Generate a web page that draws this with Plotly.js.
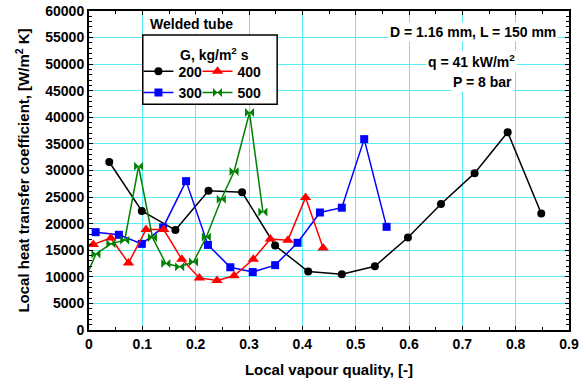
<!DOCTYPE html>
<html>
<head>
<meta charset="utf-8">
<script src="https://cdn.plot.ly/plotly-3.0.1.min.js"></script>
<style>html,body{margin:0;padding:0;background:#fff;}#chart{width:581px;height:387px;}</style>
</head>
<body>
<div id="chart"></div>
<script>
// Data
const x200 = [0.038, 0.099, 0.162, 0.224, 0.287, 0.349, 0.411, 0.474, 0.536, 0.598, 0.660, 0.723, 0.785, 0.848];
const y200 = [31600, 22400, 18800, 26200, 25900, 15900, 11000, 10500, 12000, 17400, 23700, 29500, 37200, 21900];

const x300 = [0.0125, 0.056, 0.099, 0.139, 0.182, 0.223, 0.265, 0.307, 0.349, 0.391, 0.433, 0.474, 0.516, 0.558];
const y300 = [18400, 17900, 16200, 19300, 28000, 16000, 11800, 10900, 12200, 16400, 22100, 23000, 35900, 19400];

const x400 = [0.008, 0.041, 0.074, 0.107, 0.140, 0.174, 0.207, 0.240, 0.272, 0.308, 0.340, 0.373, 0.406, 0.439];
const y400 = [16100, 17300, 12600, 18900, 18900, 13300, 9800, 9300, 10200, 13300, 17100, 16900, 24900, 15400];

const x500 = [-0.012, 0.013, 0.041, 0.067, 0.093, 0.119, 0.144, 0.170, 0.196, 0.220, 0.248, 0.272, 0.301, 0.326];
const y500 = [8500, 14300, 16200, 16900, 30800, 17400, 12500, 11900, 12800, 17500, 24600, 29800, 40900, 22200];

const seriesNames = ['200', '300', '400', '500'];
const xTickVals = [0, 0.1, 0.2, 0.3, 0.4, 0.5, 0.6, 0.7, 0.8, 0.9];
const xTickText = ['0', '0.1', '0.2', '0.3', '0.4', '0.5', '0.6', '0.7', '0.8', '0.9'];

const FONT = 'Liberation Sans, Arial, sans-serif';
const grid = 'rgb(90,235,245)';

const traces = [
  {x: x200, y: y200, name: seriesNames[0], mode: 'lines+markers', legend: 'legend',
   line: {color: '#000000', width: 1.5}, marker: {symbol: 'circle', size: 8, color: '#000000'}},
  {x: x300, y: y300, name: seriesNames[1], mode: 'lines+markers', legend: 'legend',
   line: {color: '#0000ff', width: 1.5}, marker: {symbol: 'square', size: 8, color: '#0000ff'}},
  {x: x400, y: y400, name: seriesNames[2], mode: 'lines+markers', legend: 'legend2',
   line: {color: '#ff0000', width: 1.5}, marker: {symbol: 'triangle-up', size: 10, color: '#ff0000'}},
  {x: x500, y: y500, name: seriesNames[3], mode: 'lines+markers', legend: 'legend2',
   line: {color: '#008000', width: 1.5}, marker: {symbol: 'bowtie', size: 9, color: '#008000'}}
];

const legendCommon = {
  orientation: 'v', xanchor: 'left', yanchor: 'top',
  bgcolor: 'rgba(0,0,0,0)', borderwidth: 0,
  font: {family: FONT, size: 14, color: '#000', weight: 'bold'},
  tracegroupgap: 0, itemwidth: 30
};

const annFont = {family: FONT, size: 14, color: '#000', weight: 'bold'};
function ann(text, x, y, bg) {
  return {text: text, xref: 'paper', yref: 'paper', x: x, y: y, xanchor: 'center', yanchor: 'middle',
          showarrow: false, bgcolor: bg ? '#fff' : 'rgba(0,0,0,0)', borderpad: 1, font: annFont};
}

const layout = {
  width: 581, height: 387,
  margin: {l: 89, r: 12, t: 11, b: 57},
  paper_bgcolor: '#fff', plot_bgcolor: '#fff',
  font: {family: FONT, size: 14, color: '#000', weight: 'bold'},
  showlegend: true,
  legend: Object.assign({}, legendCommon, {x: 0.103, y: 0.86}),
  legend2: Object.assign({}, legendCommon, {x: 0.226, y: 0.86}),
  xaxis: {
    range: [0, 0.9], tickvals: xTickVals, ticktext: xTickText,
    showgrid: true, gridcolor: grid, gridwidth: 1,
    zeroline: false, showline: true, linecolor: '#000', linewidth: 2, mirror: 'ticks',
    ticks: 'inside', ticklen: 4, tickcolor: '#000', tickwidth: 1,
    minor: {dtick: 0.05, ticks: 'inside', ticklen: 3, tickcolor: '#000', showgrid: false},
    tickfont: {family: FONT, size: 14, color: '#000', weight: 'bold'},
    title: {text: 'Local vapour quality, [-]', font: {family: FONT, size: 15, color: '#000', weight: 'bold'}, standoff: 14}
  },
  yaxis: {
    range: [0, 60000], dtick: 5000, tickformat: 'd',
    showgrid: true, gridcolor: grid, gridwidth: 1,
    zeroline: false, showline: true, linecolor: '#000', linewidth: 2, mirror: 'ticks',
    ticks: 'inside', ticklen: 4, tickcolor: '#000', tickwidth: 1,
    minor: {dtick: 1000, ticks: 'inside', ticklen: 3, tickcolor: '#000', showgrid: false},
    tickfont: {family: FONT, size: 14, color: '#000', weight: 'bold'},
    title: {text: 'Local heat transfer coefficient, [W/m<sup>2</sup> K]', font: {family: FONT, size: 15, color: '#000', weight: 'bold'}, standoff: 12}
  },
  shapes: [
    {type: 'rect', xref: 'paper', yref: 'paper', x0: 0.112, x1: 0.392, y0: 0.708, y1: 0.925,
     line: {color: '#000', width: 1.5}, fillcolor: '#ffffff', opacity: 1, layer: 'above'}
  ],
  annotations: [
    ann('Welded tube', 0.2125, 0.959, true),
    ann('G, kg/m<sup>2</sup> s', 0.261, 0.866, false),
    ann('D = 1.16 mm, L = 150 mm', 0.8, 0.935, true),
    ann('q = 41 kW/m<sup>2</sup>', 0.796, 0.842, true),
    ann('P = 8 bar', 0.8196, 0.778, true)
  ]
};

Plotly.newPlot('chart', traces, layout, {displayModeBar: false, staticPlot: true});
</script>
</body>
</html>
